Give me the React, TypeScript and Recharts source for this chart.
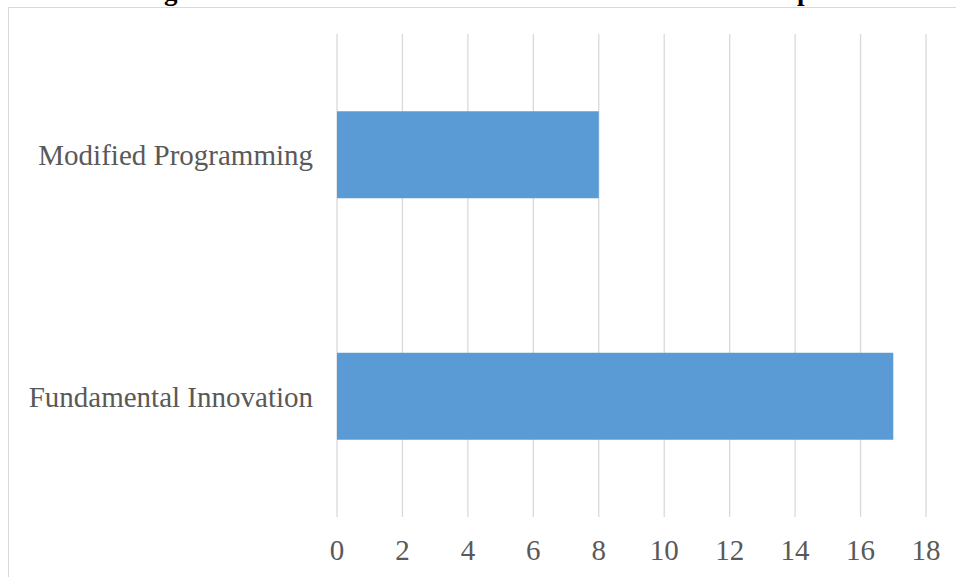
import { BarChart, Bar, XAxis, YAxis, CartesianGrid } from 'recharts'

const categories = ['Modified Programming', 'Fundamental Innovation']
const counts = [8, 17]
const xTicks = [0, 2, 4, 6, 8, 10, 12, 14, 16, 18]
const title = 'Figure 3.6: Intent of Innovation from OSM and the Group'

const BAR_COLOR = '#5b9bd5'
const TEXT_COLOR = '#595959'
const GRID_COLOR = '#d9d9d9'
const FONT = '"Liberation Serif", "Times New Roman", serif'

export default function App() {
    const data = categories.map((name, i) => ({ name, value: counts[i] }))

    return (
        <div style={{ position: 'absolute', left: 0, top: 0, width: 956, height: 577, overflow: 'hidden', background: '#fff' }}>
            {/* the figure caption is cut off at the top of the picture */}
            <div
                style={{
                    position: 'absolute', left: 140, top: -22, whiteSpace: 'nowrap',
                    fontFamily: FONT, fontWeight: 'bold', fontSize: 27, lineHeight: '27px', color: '#000',
                }}
            >
                {title}
            </div>
            <div
                style={{
                    position: 'absolute', left: 8, top: 7, width: 960, height: 600,
                    borderLeft: `1px solid ${GRID_COLOR}`, borderTop: `1px solid ${GRID_COLOR}`,
                }}
            />
            <div style={{ position: 'absolute', left: 0, top: 0 }}>
                <BarChart
                    width={956}
                    height={577}
                    data={data}
                    layout="vertical"
                    margin={{ top: 34, right: 30, bottom: 30, left: 0 }}
                    barCategoryGap="32%"
                >
                    <CartesianGrid horizontal={false} stroke={GRID_COLOR} strokeWidth={1.3} />
                    <XAxis
                        type="number"
                        domain={[0, 18]}
                        ticks={xTicks}
                        height={30}
                        axisLine={false}
                        tickLine={false}
                        tickSize={0}
                        tickMargin={22}
                        tick={{ fontSize: 29, fill: TEXT_COLOR, fontFamily: FONT }}
                    />
                    <YAxis
                        type="category"
                        dataKey="name"
                        width={337}
                        axisLine={false}
                        tickLine={false}
                        tickSize={0}
                        tickMargin={24}
                        tick={{ fontSize: 29, fill: TEXT_COLOR, fontFamily: FONT }}
                    />
                    <Bar dataKey="value" fill={BAR_COLOR} isAnimationActive={false} />
                </BarChart>
            </div>
        </div>
    )
}
